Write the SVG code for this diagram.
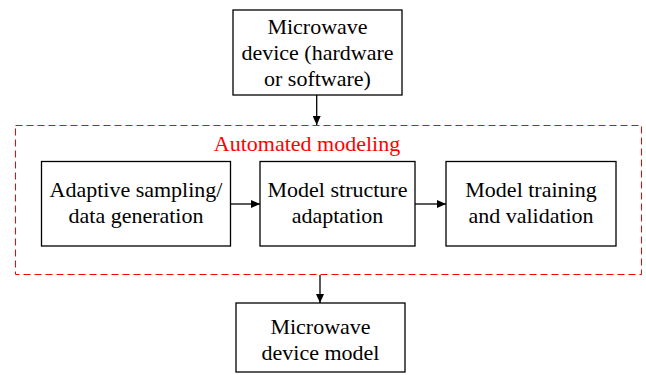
<svg xmlns="http://www.w3.org/2000/svg" width="646" height="375" viewBox="0 0 646 375">
<style>
.box{fill:#fff;stroke:#000;stroke-width:1.3}
.t{font-family:"Liberation Serif","Times New Roman",serif;font-size:22px;fill:#000;text-anchor:middle}
.red{fill:#ff0000}
.con{stroke:#000;stroke-width:1.3;fill:none;marker-end:url(#ah)}
</style>
<defs>
<marker id="ah" markerWidth="10" markerHeight="8" refX="9" refY="4" orient="auto" markerUnits="userSpaceOnUse">
<path d="M0,0 L9,4 L0,8 Z" fill="#000"/>
</marker>
</defs>
<g id="automated-modeling">
<rect x="15.5" y="125.5" width="626" height="149" fill="none" stroke="#ff0000" stroke-width="1" stroke-dasharray="7,4"/>
<text class="t red" x="307" y="151">Automated modeling</text>
</g>
<g id="device">
<rect class="box" x="233" y="10" width="169" height="85"/>
<text class="t" x="317.5" y="33.5">Microwave</text>
<text class="t" x="317.5" y="59.5">device (hardware</text>
<text class="t" x="317.5" y="85.5">or software)</text>
</g>
<g id="sampling">
<rect class="box" x="41.5" y="161.5" width="189" height="84.5"/>
<text class="t" x="136" y="196.5">Adaptive sampling/</text>
<text class="t" x="136" y="222.5">data generation</text>
</g>
<g id="structure">
<rect class="box" x="260" y="161.5" width="155" height="84.5"/>
<text class="t" x="337.5" y="196.5">Model structure</text>
<text class="t" x="337.5" y="222.5">adaptation</text>
</g>
<g id="training">
<rect class="box" x="446" y="161.5" width="170" height="84.5"/>
<text class="t" x="531" y="196.5">Model training</text>
<text class="t" x="531" y="222.5">and validation</text>
</g>
<g id="model">
<rect class="box" x="236" y="303" width="169" height="69"/>
<text class="t" x="320.5" y="333.5">Microwave</text>
<text class="t" x="320.5" y="359.5">device model</text>
</g>
<g id="connectors">
<line class="con" x1="316.7" y1="95" x2="316.7" y2="125"/>
<line class="con" x1="231" y1="204" x2="260" y2="204"/>
<line class="con" x1="415" y1="204" x2="446" y2="204"/>
<line class="con" x1="320" y1="275" x2="320" y2="303"/>
</g>
</svg>
